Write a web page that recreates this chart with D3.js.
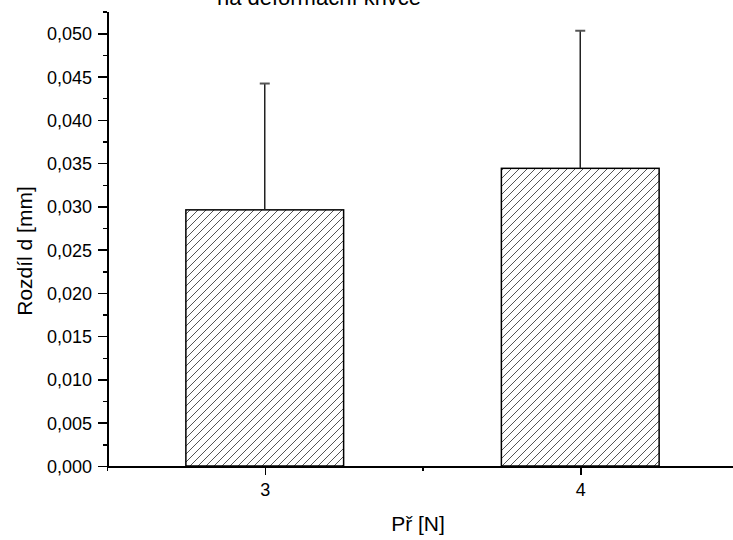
<!DOCTYPE html>
<html>
<head>
<meta charset="utf-8">
<style>
body{ margin:0; background:#fff; overflow:hidden; }
svg{ display:block; }
text{ font-family: "Liberation Sans", Arial, sans-serif; fill:#000; }
.axis path, .axis line{ stroke:#000; stroke-width:2px; shape-rendering:crispEdges; }
.axis .tick line{ stroke-width:1.5px; }
.axis text{ font-size:18px; }
</style>
</head>
<body>
<script src="https://cdn.jsdelivr.net/npm/d3@7/dist/d3.min.js"></script>
<script>
  var WIDTH = 733;
  var HEIGHT = 540;

  // data
  var categories = [3, 4];
  var means = [0.0296, 0.0344];
  var errors = [0.0146, 0.0159];
  var yMajor = [0, 0.005, 0.010, 0.015, 0.020, 0.025, 0.030, 0.035, 0.040, 0.045, 0.050];
  var yMinor = [0.0025, 0.0075, 0.0125, 0.0175, 0.0225, 0.0275, 0.0325, 0.0375, 0.0425, 0.0475, 0.0525];
  var xMinor = [2.5, 3.5, 4.5];
  var titleText = "na deformační křivce";
  var xTitle = "Př [N]";
  var yTitle = "Rozdíl d [mm]";

  var xScale = d3.scaleLinear()
    .domain([2.5, 4.5])
    .range([107, 738]);

  var yScale = d3.scaleLinear()
    .domain([0, 0.0525])
    .range([466, 11.7]);

  var BAR_W = 0.5;
  var fmt = function(d){ return d3.format(".3f")(d).replace(".", ","); };

  var svg = d3.select("body").append("svg")
    .attr("width", WIDTH)
    .attr("height", HEIGHT);

  var defs = svg.append("defs");
  var pat = defs.append("pattern")
    .attr("id", "hatch")
    .attr("patternUnits", "userSpaceOnUse")
    .attr("width", 8)
    .attr("height", 8);
  pat.append("path")
    .attr("d", "M-2,2 l4,-4 M0,8 l8,-8 M6,10 l4,-4")
    .attr("stroke", "#555")
    .attr("stroke-width", 1);

  var bars = categories.map((c, i) => ({cat: c, mean: means[i], err: errors[i]}));

  // bars
  svg.selectAll("rect.bar")
    .data(bars)
    .enter()
    .append("rect")
      .attr("class", "bar")
      .attr("x", d => xScale(d.cat - BAR_W / 2))
      .attr("width", d => xScale(d.cat + BAR_W / 2) - xScale(d.cat - BAR_W / 2))
      .attr("y", d => yScale(d.mean))
      .attr("height", d => yScale(0) - yScale(d.mean))
      .attr("fill", "url(#hatch)")
      .attr("stroke", "#000")
      .attr("stroke-width", 1.5);

  // error bars (upper only)
  svg.selectAll("line.err")
    .data(bars)
    .enter()
    .append("line")
      .attr("class", "err")
      .attr("x1", d => xScale(d.cat)).attr("x2", d => xScale(d.cat))
      .attr("y1", d => yScale(d.mean)).attr("y2", d => yScale(d.mean + d.err))
      .attr("stroke", "#222")
      .attr("stroke-width", 1.5);

  svg.selectAll("line.cap")
    .data(bars)
    .enter()
    .append("line")
      .attr("class", "cap")
      .attr("x1", d => xScale(d.cat) - 5).attr("x2", d => xScale(d.cat) + 5)
      .attr("y1", d => yScale(d.mean + d.err)).attr("y2", d => yScale(d.mean + d.err))
      .attr("stroke", "#555")
      .attr("stroke-width", 2);

  // y axis
  svg.append("g")
    .attr("class", "axis")
    .attr("transform", `translate(${xScale.range()[0]},0)`)
    .call(d3.axisLeft(yScale).tickValues(yMinor).tickSize(4).tickSizeOuter(0).tickFormat(""));

  svg.append("g")
    .attr("class", "axis")
    .attr("transform", `translate(${xScale.range()[0]},0)`)
    .call(d3.axisLeft(yScale).tickValues(yMajor).tickSize(9).tickPadding(6).tickSizeOuter(0).tickFormat(fmt))
    .selectAll("text").attr("dy", "0.36em");

  // x axis
  svg.append("g")
    .attr("class", "axis")
    .attr("transform", `translate(0,${yScale(0)})`)
    .call(d3.axisBottom(xScale).tickValues(xMinor).tickSize(5).tickSizeOuter(0).tickFormat(""));

  svg.append("g")
    .attr("class", "axis")
    .attr("transform", `translate(0,${yScale(0)})`)
    .call(d3.axisBottom(xScale).tickValues(categories).tickSize(9).tickPadding(8).tickSizeOuter(0).tickFormat(d3.format("d")))
    .selectAll("text").attr("dy", "0.71em");

  // titles
  svg.append("text")
    .attr("x", 319).attr("y", 5)
    .attr("text-anchor", "middle")
    .style("font-size", "22px")
    .text(titleText);

  svg.append("text")
    .attr("x", 418).attr("y", 531)
    .attr("text-anchor", "middle")
    .style("font-size", "21px")
    .text(xTitle);

  svg.append("text")
    .attr("transform", "translate(32,251) rotate(-90)")
    .attr("text-anchor", "middle")
    .style("font-size", "21px")
    .text(yTitle);
</script>
</body>
</html>
